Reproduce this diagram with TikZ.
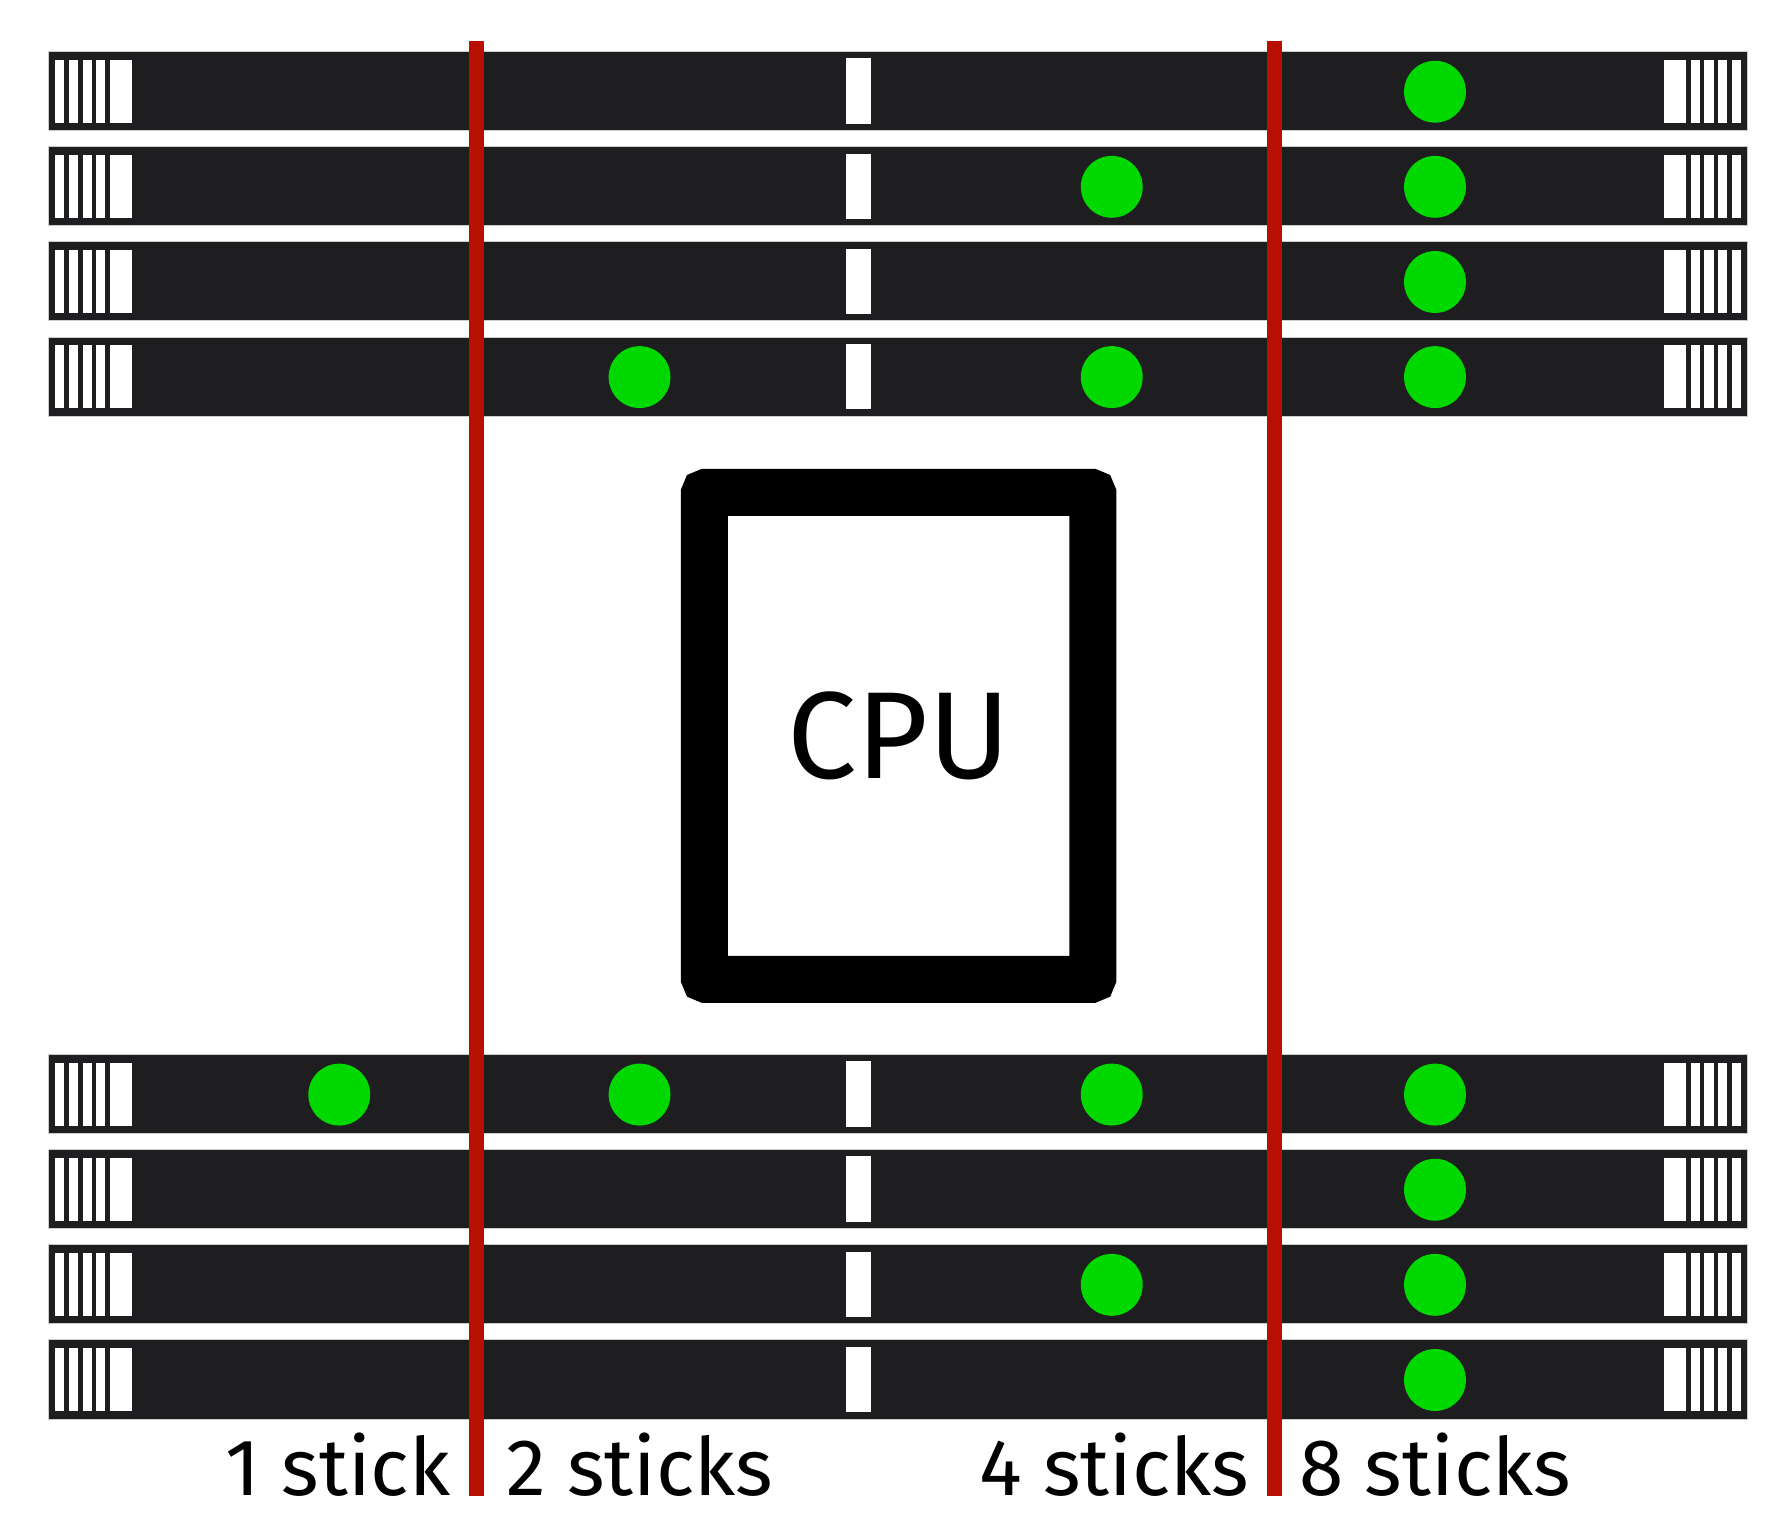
\documentclass[tikz,border=0pt]{standalone}
\usepackage{fontspec}
\setmainfont{Fira Sans}
\definecolor{strip}{HTML}{1E1D20}
\definecolor{dot}{HTML}{00D800}
\definecolor{redl}{HTML}{B81000}
\begin{document}
\begin{tikzpicture}[x=1pt,y=-1pt,
  stripst/.style={fill=strip,draw=gray!40,line width=0.8pt},
  bar/.style={fill=white},
  dotst/.style={circle,fill=dot,minimum size=54pt,inner sep=0pt},
  lbl/.style={font=\fontsize{70}{80}\selectfont,anchor=base},
  redst/.style={draw=redl,line width=13pt}]
\useasboundingbox (0,0) rectangle (1560,1334);
\fill[white] (0,0) rectangle (1560,1334);
\foreach \t in {45,128,211,294,920,1003,1086,1169}{
  \draw[stripst] (42,\t) rectangle (1525,\t+69);
  \foreach \a/\b in {48/56,60/68,72/80,84/92,96/115,1452/1471,1475/1483,1487/1495,1499/1507,1511/1519}
    \fill[bar] (\a,\t+7) rectangle (\b,\t+62);
  \fill[bar] (738,\t+6) rectangle (760,\t+63);
}
\foreach \n/\x/\y in {a/1252/80, b/970/163, c/1252/163, d/1252/246, e/558/329, f/970/329, g/1252/329,
  h/296/955, i/558/955, j/970/955, k/1252/955, l/1252/1038, m/970/1121, n/1252/1121, o/1252/1204}
  \node[dotst] (\n) at (\x,\y) {};
\coordinate (r1t) at (416,36); \coordinate (r1b) at (416,1305);
\coordinate (r2t) at (1112,36); \coordinate (r2b) at (1112,1305);
\draw[redst] (r1t) -- (r1b);
\draw[redst] (r2t) -- (r2b);
\draw[line width=41pt,rounded corners=2pt] (614.5,429.5) rectangle (953.5,854.5);
\node[font=\fontsize{108}{120}\selectfont] (cpu) at (784,642) {CPU};
\node[lbl] (l1) at (295,1305) {1 stick};
\node[lbl] (l2) at (558,1305) {2 sticks};
\node[lbl] (l4) at (972,1305) {4 sticks};
\node[lbl] (l8) at (1252,1305) {8 sticks};
\end{tikzpicture}
\end{document}
